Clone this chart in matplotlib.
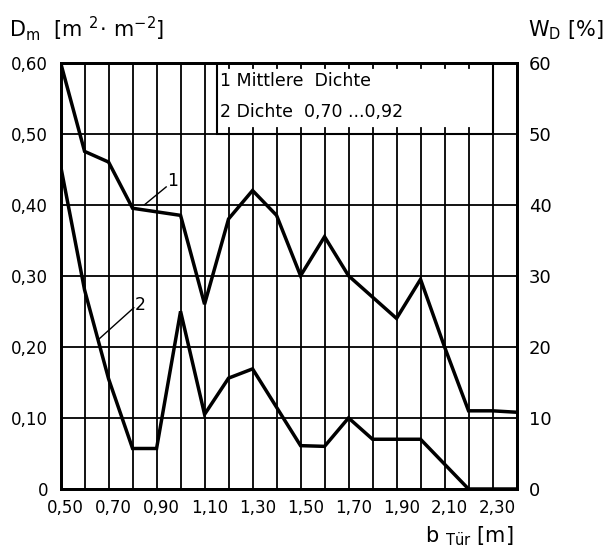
import matplotlib
matplotlib.use("Agg")
import matplotlib.pyplot as plt
import matplotlib.transforms as mtransforms
from matplotlib.patches import Rectangle

# door width b_Tuer [m]
b_tuer = [0.50, 0.60, 0.70, 0.80, 0.90, 1.00, 1.10, 1.20, 1.30, 1.40,
          1.50, 1.60, 1.70, 1.80, 1.90, 2.00, 2.10, 2.20, 2.30, 2.40]
# curve 1: Mittlere Dichte
dichte_mittel = [0.60, 0.475, 0.46, 0.395, 0.39, 0.385, 0.26, 0.38, 0.42, 0.385,
                 0.30, 0.355, 0.30, 0.27, 0.24, 0.295, 0.20, 0.11, 0.11, 0.108]
# curve 2: Dichte 0,70 ... 0,92
dichte_hoch = [0.455, 0.28, 0.155, 0.057, 0.057, 0.25, 0.105, 0.156, 0.169, 0.115,
               0.061, 0.06, 0.10, 0.07, 0.07, 0.07, 0.035, 0.0, 0.0, 0.0]

x_ticks = [0.50, 0.70, 0.90, 1.10, 1.30, 1.50, 1.70, 1.90, 2.10, 2.30]
y_ticks = [0, 0.10, 0.20, 0.30, 0.40, 0.50, 0.60]
w_ticks = [0, 10, 20, 30, 40, 50, 60]


def komma(v, fmt):
    return fmt.format(v).replace(".", ",")


fig = plt.figure(figsize=(6.12, 5.56), dpi=100)
ax = fig.add_axes([0.099, 0.1205, 0.745, 0.767])
ax.set_xlim(0.50, 2.40)
ax.set_ylim(0, 0.60)

fs = 12
# grid
for i in range(20):
    ax.axvline(0.50 + i * 0.1, color="black", lw=1.3, zorder=1)
for y in y_ticks:
    ax.axhline(y, color="black", lw=1.3, zorder=1)

ax.plot(b_tuer, dichte_mittel, color="black", lw=2.5, zorder=3, solid_joinstyle="miter")
ax.plot(b_tuer, dichte_hoch, color="black", lw=2.5, zorder=3, solid_joinstyle="miter")

# legend box
ax.add_patch(Rectangle((1.15, 0.50), 1.15, 0.10, facecolor="white",
                       edgecolor="black", lw=1.5, zorder=2))
for i in range(7, 18):
    xv = 0.50 + i * 0.1
    ax.plot([xv, xv], [0.60, 0.592], color="black", lw=1.3, zorder=2.5)
    ax.plot([xv, xv], [0.50, 0.508], color="black", lw=1.3, zorder=2.5)
ax.text(1.165, 0.574, "1 Mittlere  Dichte", fontsize=12.5, va="center", ha="left", zorder=4)
ax.text(1.165, 0.530, "2 Dichte  0,70 ...0,92", fontsize=12.5, va="center", ha="left", zorder=4)

# curve labels
ax.plot([0.85, 0.94], [0.400, 0.425], color="black", lw=1.0, zorder=3)
ax.text(0.945, 0.434, "1", fontsize=12.5, ha="left", va="center")
ax.plot([0.66, 0.805], [0.211, 0.255], color="black", lw=1.0, zorder=3)
ax.text(0.81, 0.259, "2", fontsize=12.5, ha="left", va="center")

ax.set_xticks(x_ticks)
ax.set_xticklabels([komma(v, "{:.2f}") for v in x_ticks], fontsize=fs)
ax.set_yticks(y_ticks)
ax.set_yticklabels(["0"] + [komma(v, "{:.2f}") for v in y_ticks[1:]], fontsize=fs)
ax.tick_params(axis="y", length=0, pad=9)
ax.tick_params(axis="x", length=0, pad=7)
shift = mtransforms.ScaledTranslation(5 / 100, 0, fig.dpi_scale_trans)
for lab in ax.get_xticklabels():
    lab.set_transform(lab.get_transform() + shift)
for s in ax.spines.values():
    s.set_linewidth(2)

ax2 = ax.twinx()
ax2.set_ylim(0, 60)
ax2.set_yticks(w_ticks)
ax2.set_yticklabels([str(v) for v in w_ticks], fontsize=fs + 1)
ax2.tick_params(length=0, pad=9)
for s in ax2.spines.values():
    s.set_linewidth(2)

fig.text(0.015, 0.935, r"D$_{\rm m}$  [m $^{2}\!\cdot\!$ m$^{-2}$]", fontsize=15, ha="left")
fig.text(0.862, 0.935, r"W$_{\rm D}$ [%]", fontsize=15, ha="left")
fig.text(0.695, 0.025, r"b $_{\rm T\ddot{u}r}$ [m]", fontsize=15, ha="left")

fig.savefig("out.png", dpi=100, facecolor="white")
